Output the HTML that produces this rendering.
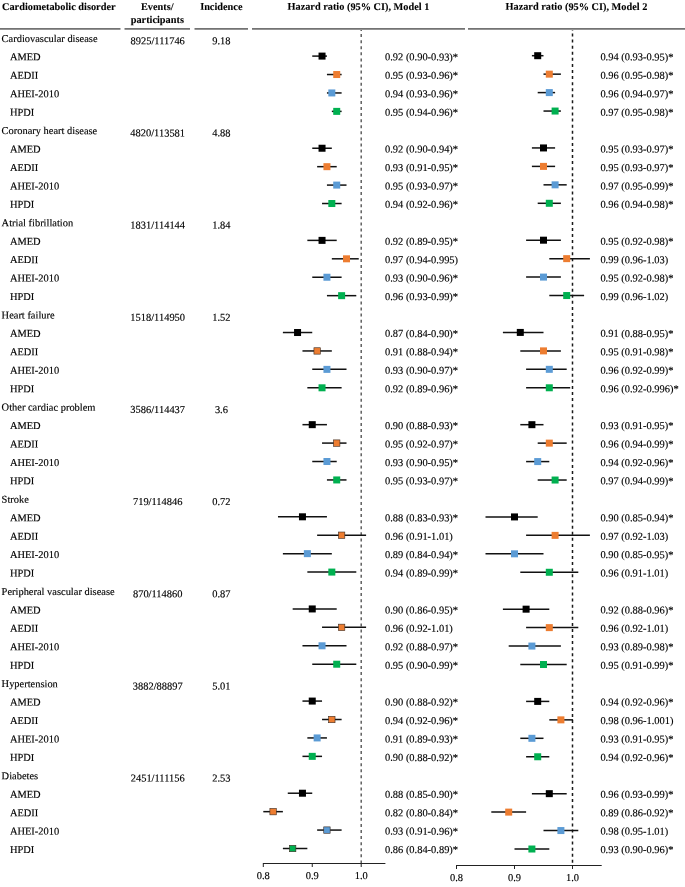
<!DOCTYPE html><html><head><meta charset="utf-8"><style>html,body{margin:0;padding:0;background:#fff;width:685px;height:887px;overflow:hidden}svg{display:block;will-change:transform}text{font-family:"Liberation Serif",serif;fill:#000;stroke:#000;stroke-width:0.15px}.h{font-weight:bold;font-size:10.3px;stroke-width:0.1px}.b{font-size:10.45px}</style></head><body>
<svg width="685" height="887" viewBox="0 0 685 887">
<text class="h" x="2" y="9.9" transform="rotate(0.05 2 9.9)">Cardiometabolic disorder</text>
<text class="h" x="157.3" y="9.9" text-anchor="middle" transform="rotate(0.05 157.3 9.9)">Events/</text>
<text class="h" x="157.3" y="23.0" text-anchor="middle" transform="rotate(0.05 157.3 23.0)">participants</text>
<text class="h" x="221.3" y="9.9" text-anchor="middle" transform="rotate(0.05 221.3 9.9)">Incidence</text>
<text class="h" x="358.4" y="9.9" text-anchor="middle" transform="rotate(0.05 358.4 9.9)">Hazard ratio (95% CI), Model 1</text>
<text class="h" x="576.4" y="9.9" text-anchor="middle" transform="rotate(0.05 576.4 9.9)">Hazard ratio (95% CI), Model 2</text>
<rect x="0" y="28" width="120.5" height="1" fill="rgb(115,115,115)"/>
<rect x="0" y="29" width="120.5" height="1" fill="rgb(148,148,148)"/>
<rect x="124.5" y="28" width="65.5" height="1" fill="rgb(115,115,115)"/>
<rect x="124.5" y="29" width="65.5" height="1" fill="rgb(148,148,148)"/>
<rect x="194.5" y="28" width="53.5" height="1" fill="rgb(115,115,115)"/>
<rect x="194.5" y="29" width="53.5" height="1" fill="rgb(148,148,148)"/>
<rect x="252" y="28" width="213" height="1" fill="rgb(115,115,115)"/>
<rect x="252" y="29" width="213" height="1" fill="rgb(148,148,148)"/>
<rect x="468" y="28" width="217" height="1" fill="rgb(115,115,115)"/>
<rect x="468" y="29" width="217" height="1" fill="rgb(148,148,148)"/>
<line x1="361.2" y1="30" x2="361.2" y2="866.5" stroke="#555" stroke-width="1.4" stroke-dasharray="3 3.0758" stroke-dashoffset="1.98"/>
<line x1="572.5" y1="30" x2="572.5" y2="864" stroke="#1a1a1a" stroke-width="1.5" stroke-dasharray="3 3.0758" stroke-dashoffset="2.55"/>
<rect x="263" y="863" width="122.4" height="1" fill="#222"/>
<rect x="262.80" y="863" width="1" height="4" fill="#222"/>
<text class="b" x="263.30" y="878.9" text-anchor="middle" transform="rotate(0.05 263.30 878.9)">0.8</text>
<rect x="311.75" y="863" width="1" height="4" fill="#222"/>
<text class="b" x="312.25" y="878.9" text-anchor="middle" transform="rotate(0.05 312.25 878.9)">0.9</text>
<rect x="360.70" y="863" width="1" height="4" fill="#222"/>
<text class="b" x="361.20" y="878.9" text-anchor="middle" transform="rotate(0.05 361.20 878.9)">1.0</text>
<rect x="456" y="865" width="145.7" height="1" fill="#222"/>
<rect x="456.00" y="865" width="1" height="4" fill="#222"/>
<text class="b" x="456.50" y="880.9" text-anchor="middle" transform="rotate(0.05 456.50 880.9)">0.8</text>
<rect x="514.00" y="865" width="1" height="4" fill="#222"/>
<text class="b" x="514.50" y="880.9" text-anchor="middle" transform="rotate(0.05 514.50 880.9)">0.9</text>
<rect x="572.00" y="865" width="1" height="4" fill="#222"/>
<text class="b" x="572.50" y="880.9" text-anchor="middle" transform="rotate(0.05 572.50 880.9)">1.0</text>
<text class="b" x="1.6" y="41.90" transform="rotate(0.05 1.6 41.90)">Cardiovascular disease</text>
<text class="b" x="157.7" y="44.20" text-anchor="middle" transform="rotate(0.05 157.7 44.20)">8925/111746</text>
<text class="b" x="221.4" y="44.20" text-anchor="middle" transform="rotate(0.05 221.4 44.20)">9.18</text>
<text class="b" x="9.9" y="60.33" transform="rotate(0.05 9.9 60.33)">AMED</text>
<text class="b" x="385" y="60.33" transform="rotate(0.05 385 60.33)">0.92 (0.90-0.93)*</text>
<text class="b" x="600.4" y="60.33" transform="rotate(0.05 600.4 60.33)">0.94 (0.93-0.95)*</text>
<line x1="312.25" y1="56.10" x2="326.94" y2="56.10" stroke="#111" stroke-width="1.5"/>
<rect x="318.54" y="52.60" width="7.0" height="7.0" fill="#000000"/>
<line x1="531.90" y1="55.70" x2="543.50" y2="55.70" stroke="#111" stroke-width="1.5"/>
<rect x="534.20" y="52.20" width="7.0" height="7.0" fill="#000000"/>
<text class="b" x="9.9" y="78.77" transform="rotate(0.05 9.9 78.77)">AEDII</text>
<text class="b" x="385" y="78.77" transform="rotate(0.05 385 78.77)">0.95 (0.93-0.96)*</text>
<text class="b" x="600.4" y="78.77" transform="rotate(0.05 600.4 78.77)">0.96 (0.95-0.98)*</text>
<line x1="326.94" y1="74.53" x2="341.62" y2="74.53" stroke="#111" stroke-width="1.5"/>
<rect x="333.22" y="71.03" width="7.0" height="7.0" fill="#ED7D31"/>
<line x1="543.50" y1="74.15" x2="560.90" y2="74.15" stroke="#111" stroke-width="1.5"/>
<rect x="545.80" y="70.65" width="7.0" height="7.0" fill="#ED7D31"/>
<text class="b" x="9.9" y="97.20" transform="rotate(0.05 9.9 97.20)">AHEI-2010</text>
<text class="b" x="385" y="97.20" transform="rotate(0.05 385 97.20)">0.94 (0.93-0.96)*</text>
<text class="b" x="600.4" y="97.20" transform="rotate(0.05 600.4 97.20)">0.96 (0.94-0.97)*</text>
<line x1="326.94" y1="92.95" x2="341.62" y2="92.95" stroke="#111" stroke-width="1.5"/>
<rect x="328.33" y="89.45" width="7.0" height="7.0" fill="#5B9BD5"/>
<line x1="537.70" y1="92.60" x2="555.10" y2="92.60" stroke="#111" stroke-width="1.5"/>
<rect x="545.80" y="89.10" width="7.0" height="7.0" fill="#5B9BD5"/>
<text class="b" x="9.9" y="115.64" transform="rotate(0.05 9.9 115.64)">HPDI</text>
<text class="b" x="385" y="115.64" transform="rotate(0.05 385 115.64)">0.95 (0.94-0.96)*</text>
<text class="b" x="600.4" y="115.64" transform="rotate(0.05 600.4 115.64)">0.97 (0.95-0.98)*</text>
<line x1="331.83" y1="111.38" x2="341.62" y2="111.38" stroke="#111" stroke-width="1.5"/>
<rect x="333.22" y="107.88" width="7.0" height="7.0" fill="#00B050"/>
<line x1="543.50" y1="111.05" x2="560.90" y2="111.05" stroke="#111" stroke-width="1.5"/>
<rect x="551.60" y="107.55" width="7.0" height="7.0" fill="#00B050"/>
<text class="b" x="1.6" y="134.07" transform="rotate(0.05 1.6 134.07)">Coronary heart disease</text>
<text class="b" x="157.7" y="136.38" text-anchor="middle" transform="rotate(0.05 157.7 136.38)">4820/113581</text>
<text class="b" x="221.4" y="136.38" text-anchor="middle" transform="rotate(0.05 221.4 136.38)">4.88</text>
<text class="b" x="9.9" y="152.51" transform="rotate(0.05 9.9 152.51)">AMED</text>
<text class="b" x="385" y="152.51" transform="rotate(0.05 385 152.51)">0.92 (0.90-0.94)*</text>
<text class="b" x="600.4" y="152.51" transform="rotate(0.05 600.4 152.51)">0.95 (0.93-0.97)*</text>
<line x1="312.25" y1="148.24" x2="331.83" y2="148.24" stroke="#111" stroke-width="1.5"/>
<rect x="318.54" y="144.74" width="7.0" height="7.0" fill="#000000"/>
<line x1="531.90" y1="147.94" x2="555.10" y2="147.94" stroke="#111" stroke-width="1.5"/>
<rect x="540.00" y="144.44" width="7.0" height="7.0" fill="#000000"/>
<text class="b" x="9.9" y="170.94" transform="rotate(0.05 9.9 170.94)">AEDII</text>
<text class="b" x="385" y="170.94" transform="rotate(0.05 385 170.94)">0.93 (0.91-0.95)*</text>
<text class="b" x="600.4" y="170.94" transform="rotate(0.05 600.4 170.94)">0.95 (0.93-0.97)*</text>
<line x1="317.14" y1="166.67" x2="336.72" y2="166.67" stroke="#111" stroke-width="1.5"/>
<rect x="323.44" y="163.17" width="7.0" height="7.0" fill="#ED7D31"/>
<line x1="531.90" y1="166.39" x2="555.10" y2="166.39" stroke="#111" stroke-width="1.5"/>
<rect x="540.00" y="162.89" width="7.0" height="7.0" fill="#ED7D31"/>
<text class="b" x="9.9" y="189.38" transform="rotate(0.05 9.9 189.38)">AHEI-2010</text>
<text class="b" x="385" y="189.38" transform="rotate(0.05 385 189.38)">0.95 (0.93-0.97)*</text>
<text class="b" x="600.4" y="189.38" transform="rotate(0.05 600.4 189.38)">0.97 (0.95-0.99)*</text>
<line x1="326.94" y1="185.09" x2="346.51" y2="185.09" stroke="#111" stroke-width="1.5"/>
<rect x="333.22" y="181.59" width="7.0" height="7.0" fill="#5B9BD5"/>
<line x1="543.50" y1="184.84" x2="566.70" y2="184.84" stroke="#111" stroke-width="1.5"/>
<rect x="551.60" y="181.34" width="7.0" height="7.0" fill="#5B9BD5"/>
<text class="b" x="9.9" y="207.81" transform="rotate(0.05 9.9 207.81)">HPDI</text>
<text class="b" x="385" y="207.81" transform="rotate(0.05 385 207.81)">0.94 (0.92-0.96)*</text>
<text class="b" x="600.4" y="207.81" transform="rotate(0.05 600.4 207.81)">0.96 (0.94-0.98)*</text>
<line x1="322.04" y1="203.52" x2="341.62" y2="203.52" stroke="#111" stroke-width="1.5"/>
<rect x="328.33" y="200.02" width="7.0" height="7.0" fill="#00B050"/>
<line x1="537.70" y1="203.29" x2="560.90" y2="203.29" stroke="#111" stroke-width="1.5"/>
<rect x="545.80" y="199.79" width="7.0" height="7.0" fill="#00B050"/>
<text class="b" x="1.6" y="226.25" transform="rotate(0.05 1.6 226.25)">Atrial fibrillation</text>
<text class="b" x="157.7" y="228.55" text-anchor="middle" transform="rotate(0.05 157.7 228.55)">1831/114144</text>
<text class="b" x="221.4" y="228.55" text-anchor="middle" transform="rotate(0.05 221.4 228.55)">1.84</text>
<text class="b" x="9.9" y="244.69" transform="rotate(0.05 9.9 244.69)">AMED</text>
<text class="b" x="385" y="244.69" transform="rotate(0.05 385 244.69)">0.92 (0.89-0.95)*</text>
<text class="b" x="600.4" y="244.69" transform="rotate(0.05 600.4 244.69)">0.95 (0.92-0.98)*</text>
<line x1="307.35" y1="240.38" x2="336.72" y2="240.38" stroke="#111" stroke-width="1.5"/>
<rect x="318.54" y="236.88" width="7.0" height="7.0" fill="#000000"/>
<line x1="526.10" y1="240.19" x2="560.90" y2="240.19" stroke="#111" stroke-width="1.5"/>
<rect x="540.00" y="236.69" width="7.0" height="7.0" fill="#000000"/>
<text class="b" x="9.9" y="263.12" transform="rotate(0.05 9.9 263.12)">AEDII</text>
<text class="b" x="385" y="263.12" transform="rotate(0.05 385 263.12)">0.97 (0.94-0.995)</text>
<text class="b" x="600.4" y="263.12" transform="rotate(0.05 600.4 263.12)">0.99 (0.96-1.03)</text>
<line x1="331.83" y1="258.81" x2="358.75" y2="258.81" stroke="#111" stroke-width="1.5"/>
<rect x="343.01" y="255.31" width="7.0" height="7.0" fill="#ED7D31"/>
<line x1="549.30" y1="258.64" x2="589.90" y2="258.64" stroke="#111" stroke-width="1.5"/>
<rect x="563.20" y="255.14" width="7.0" height="7.0" fill="#ED7D31"/>
<text class="b" x="9.9" y="281.55" transform="rotate(0.05 9.9 281.55)">AHEI-2010</text>
<text class="b" x="385" y="281.55" transform="rotate(0.05 385 281.55)">0.93 (0.90-0.96)*</text>
<text class="b" x="600.4" y="281.55" transform="rotate(0.05 600.4 281.55)">0.95 (0.92-0.98)*</text>
<line x1="312.25" y1="277.23" x2="341.62" y2="277.23" stroke="#111" stroke-width="1.5"/>
<rect x="323.44" y="273.73" width="7.0" height="7.0" fill="#5B9BD5"/>
<line x1="526.10" y1="277.09" x2="560.90" y2="277.09" stroke="#111" stroke-width="1.5"/>
<rect x="540.00" y="273.59" width="7.0" height="7.0" fill="#5B9BD5"/>
<text class="b" x="9.9" y="299.99" transform="rotate(0.05 9.9 299.99)">HPDI</text>
<text class="b" x="385" y="299.99" transform="rotate(0.05 385 299.99)">0.96 (0.93-0.99)*</text>
<text class="b" x="600.4" y="299.99" transform="rotate(0.05 600.4 299.99)">0.99 (0.96-1.02)</text>
<line x1="326.94" y1="295.66" x2="356.30" y2="295.66" stroke="#111" stroke-width="1.5"/>
<rect x="338.12" y="292.16" width="7.0" height="7.0" fill="#00B050"/>
<line x1="549.30" y1="295.54" x2="584.10" y2="295.54" stroke="#111" stroke-width="1.5"/>
<rect x="563.20" y="292.04" width="7.0" height="7.0" fill="#00B050"/>
<text class="b" x="1.6" y="318.42" transform="rotate(0.05 1.6 318.42)">Heart failure</text>
<text class="b" x="157.7" y="320.72" text-anchor="middle" transform="rotate(0.05 157.7 320.72)">1518/114950</text>
<text class="b" x="221.4" y="320.72" text-anchor="middle" transform="rotate(0.05 221.4 320.72)">1.52</text>
<text class="b" x="9.9" y="336.86" transform="rotate(0.05 9.9 336.86)">AMED</text>
<text class="b" x="385" y="336.86" transform="rotate(0.05 385 336.86)">0.87 (0.84-0.90)*</text>
<text class="b" x="600.4" y="336.86" transform="rotate(0.05 600.4 336.86)">0.91 (0.88-0.95)*</text>
<line x1="282.88" y1="332.52" x2="312.25" y2="332.52" stroke="#111" stroke-width="1.5"/>
<rect x="294.06" y="329.02" width="7.0" height="7.0" fill="#000000"/>
<line x1="502.90" y1="332.43" x2="543.50" y2="332.43" stroke="#111" stroke-width="1.5"/>
<rect x="516.80" y="328.93" width="7.0" height="7.0" fill="#000000"/>
<text class="b" x="9.9" y="355.29" transform="rotate(0.05 9.9 355.29)">AEDII</text>
<text class="b" x="385" y="355.29" transform="rotate(0.05 385 355.29)">0.91 (0.88-0.94)*</text>
<text class="b" x="600.4" y="355.29" transform="rotate(0.05 600.4 355.29)">0.95 (0.91-0.98)*</text>
<line x1="302.46" y1="350.95" x2="331.83" y2="350.95" stroke="#111" stroke-width="1.5"/>
<rect x="313.94" y="347.75" width="6.4" height="6.4" fill="#ED7D31" stroke="#3a2a20" stroke-width="0.6"/>
<line x1="520.30" y1="350.88" x2="560.90" y2="350.88" stroke="#111" stroke-width="1.5"/>
<rect x="540.00" y="347.38" width="7.0" height="7.0" fill="#ED7D31"/>
<text class="b" x="9.9" y="373.73" transform="rotate(0.05 9.9 373.73)">AHEI-2010</text>
<text class="b" x="385" y="373.73" transform="rotate(0.05 385 373.73)">0.93 (0.90-0.97)*</text>
<text class="b" x="600.4" y="373.73" transform="rotate(0.05 600.4 373.73)">0.96 (0.92-0.99)*</text>
<line x1="312.25" y1="369.37" x2="346.51" y2="369.37" stroke="#111" stroke-width="1.5"/>
<rect x="323.44" y="365.87" width="7.0" height="7.0" fill="#5B9BD5"/>
<line x1="526.10" y1="369.33" x2="566.70" y2="369.33" stroke="#111" stroke-width="1.5"/>
<rect x="545.80" y="365.83" width="7.0" height="7.0" fill="#5B9BD5"/>
<text class="b" x="9.9" y="392.16" transform="rotate(0.05 9.9 392.16)">HPDI</text>
<text class="b" x="385" y="392.16" transform="rotate(0.05 385 392.16)">0.92 (0.89-0.96)*</text>
<text class="b" x="600.4" y="392.16" transform="rotate(0.05 600.4 392.16)">0.96 (0.92-0.996)*</text>
<line x1="307.35" y1="387.80" x2="341.62" y2="387.80" stroke="#111" stroke-width="1.5"/>
<rect x="318.54" y="384.30" width="7.0" height="7.0" fill="#00B050"/>
<line x1="526.10" y1="387.78" x2="570.18" y2="387.78" stroke="#111" stroke-width="1.5"/>
<rect x="545.80" y="384.28" width="7.0" height="7.0" fill="#00B050"/>
<text class="b" x="1.6" y="410.60" transform="rotate(0.05 1.6 410.60)">Other cardiac problem</text>
<text class="b" x="157.7" y="412.90" text-anchor="middle" transform="rotate(0.05 157.7 412.90)">3586/114437</text>
<text class="b" x="221.4" y="412.90" text-anchor="middle" transform="rotate(0.05 221.4 412.90)">3.6</text>
<text class="b" x="9.9" y="429.03" transform="rotate(0.05 9.9 429.03)">AMED</text>
<text class="b" x="385" y="429.03" transform="rotate(0.05 385 429.03)">0.90 (0.88-0.93)*</text>
<text class="b" x="600.4" y="429.03" transform="rotate(0.05 600.4 429.03)">0.93 (0.91-0.95)*</text>
<line x1="302.46" y1="424.66" x2="326.94" y2="424.66" stroke="#111" stroke-width="1.5"/>
<rect x="308.75" y="421.16" width="7.0" height="7.0" fill="#000000"/>
<line x1="520.30" y1="424.68" x2="543.50" y2="424.68" stroke="#111" stroke-width="1.5"/>
<rect x="528.40" y="421.18" width="7.0" height="7.0" fill="#000000"/>
<text class="b" x="9.9" y="447.47" transform="rotate(0.05 9.9 447.47)">AEDII</text>
<text class="b" x="385" y="447.47" transform="rotate(0.05 385 447.47)">0.95 (0.92-0.97)*</text>
<text class="b" x="600.4" y="447.47" transform="rotate(0.05 600.4 447.47)">0.96 (0.94-0.99)*</text>
<line x1="322.04" y1="443.09" x2="346.51" y2="443.09" stroke="#111" stroke-width="1.5"/>
<rect x="333.52" y="439.89" width="6.4" height="6.4" fill="#ED7D31" stroke="#3a2a20" stroke-width="0.6"/>
<line x1="537.70" y1="443.13" x2="566.70" y2="443.13" stroke="#111" stroke-width="1.5"/>
<rect x="545.80" y="439.63" width="7.0" height="7.0" fill="#ED7D31"/>
<text class="b" x="9.9" y="465.90" transform="rotate(0.05 9.9 465.90)">AHEI-2010</text>
<text class="b" x="385" y="465.90" transform="rotate(0.05 385 465.90)">0.93 (0.90-0.95)*</text>
<text class="b" x="600.4" y="465.90" transform="rotate(0.05 600.4 465.90)">0.94 (0.92-0.96)*</text>
<line x1="312.25" y1="461.51" x2="336.72" y2="461.51" stroke="#111" stroke-width="1.5"/>
<rect x="323.44" y="458.01" width="7.0" height="7.0" fill="#5B9BD5"/>
<line x1="526.10" y1="461.58" x2="549.30" y2="461.58" stroke="#111" stroke-width="1.5"/>
<rect x="534.20" y="458.08" width="7.0" height="7.0" fill="#5B9BD5"/>
<text class="b" x="9.9" y="484.34" transform="rotate(0.05 9.9 484.34)">HPDI</text>
<text class="b" x="385" y="484.34" transform="rotate(0.05 385 484.34)">0.95 (0.93-0.97)*</text>
<text class="b" x="600.4" y="484.34" transform="rotate(0.05 600.4 484.34)">0.97 (0.94-0.99)*</text>
<line x1="326.94" y1="479.94" x2="346.51" y2="479.94" stroke="#111" stroke-width="1.5"/>
<rect x="333.22" y="476.44" width="7.0" height="7.0" fill="#00B050"/>
<line x1="537.70" y1="480.03" x2="566.70" y2="480.03" stroke="#111" stroke-width="1.5"/>
<rect x="551.60" y="476.53" width="7.0" height="7.0" fill="#00B050"/>
<text class="b" x="1.6" y="502.77" transform="rotate(0.05 1.6 502.77)">Stroke</text>
<text class="b" x="157.7" y="505.07" text-anchor="middle" transform="rotate(0.05 157.7 505.07)">719/114846</text>
<text class="b" x="221.4" y="505.07" text-anchor="middle" transform="rotate(0.05 221.4 505.07)">0.72</text>
<text class="b" x="9.9" y="521.21" transform="rotate(0.05 9.9 521.21)">AMED</text>
<text class="b" x="385" y="521.21" transform="rotate(0.05 385 521.21)">0.88 (0.83-0.93)*</text>
<text class="b" x="600.4" y="521.21" transform="rotate(0.05 600.4 521.21)">0.90 (0.85-0.94)*</text>
<line x1="277.98" y1="516.80" x2="326.94" y2="516.80" stroke="#111" stroke-width="1.5"/>
<rect x="298.96" y="513.30" width="7.0" height="7.0" fill="#000000"/>
<line x1="485.50" y1="516.92" x2="537.70" y2="516.92" stroke="#111" stroke-width="1.5"/>
<rect x="511.00" y="513.42" width="7.0" height="7.0" fill="#000000"/>
<text class="b" x="9.9" y="539.64" transform="rotate(0.05 9.9 539.64)">AEDII</text>
<text class="b" x="385" y="539.64" transform="rotate(0.05 385 539.64)">0.96 (0.91-1.01)</text>
<text class="b" x="600.4" y="539.64" transform="rotate(0.05 600.4 539.64)">0.97 (0.92-1.03)</text>
<line x1="317.14" y1="535.23" x2="366.09" y2="535.23" stroke="#111" stroke-width="1.5"/>
<rect x="338.42" y="532.03" width="6.4" height="6.4" fill="#ED7D31" stroke="#3a2a20" stroke-width="0.6"/>
<line x1="526.10" y1="535.37" x2="589.90" y2="535.37" stroke="#111" stroke-width="1.5"/>
<rect x="551.60" y="531.87" width="7.0" height="7.0" fill="#ED7D31"/>
<text class="b" x="9.9" y="558.08" transform="rotate(0.05 9.9 558.08)">AHEI-2010</text>
<text class="b" x="385" y="558.08" transform="rotate(0.05 385 558.08)">0.89 (0.84-0.94)*</text>
<text class="b" x="600.4" y="558.08" transform="rotate(0.05 600.4 558.08)">0.90 (0.85-0.95)*</text>
<line x1="282.88" y1="553.65" x2="331.83" y2="553.65" stroke="#111" stroke-width="1.5"/>
<rect x="303.85" y="550.15" width="7.0" height="7.0" fill="#5B9BD5"/>
<line x1="485.50" y1="553.82" x2="543.50" y2="553.82" stroke="#111" stroke-width="1.5"/>
<rect x="511.00" y="550.32" width="7.0" height="7.0" fill="#5B9BD5"/>
<text class="b" x="9.9" y="576.51" transform="rotate(0.05 9.9 576.51)">HPDI</text>
<text class="b" x="385" y="576.51" transform="rotate(0.05 385 576.51)">0.94 (0.89-0.99)*</text>
<text class="b" x="600.4" y="576.51" transform="rotate(0.05 600.4 576.51)">0.96 (0.91-1.01)</text>
<line x1="307.35" y1="572.08" x2="356.30" y2="572.08" stroke="#111" stroke-width="1.5"/>
<rect x="328.33" y="568.58" width="7.0" height="7.0" fill="#00B050"/>
<line x1="520.30" y1="572.27" x2="578.30" y2="572.27" stroke="#111" stroke-width="1.5"/>
<rect x="545.80" y="568.77" width="7.0" height="7.0" fill="#00B050"/>
<text class="b" x="1.6" y="594.95" transform="rotate(0.05 1.6 594.95)">Peripheral vascular disease</text>
<text class="b" x="157.7" y="597.25" text-anchor="middle" transform="rotate(0.05 157.7 597.25)">870/114860</text>
<text class="b" x="221.4" y="597.25" text-anchor="middle" transform="rotate(0.05 221.4 597.25)">0.87</text>
<text class="b" x="9.9" y="613.38" transform="rotate(0.05 9.9 613.38)">AMED</text>
<text class="b" x="385" y="613.38" transform="rotate(0.05 385 613.38)">0.90 (0.86-0.95)*</text>
<text class="b" x="600.4" y="613.38" transform="rotate(0.05 600.4 613.38)">0.92 (0.88-0.96)*</text>
<line x1="292.67" y1="608.94" x2="336.72" y2="608.94" stroke="#111" stroke-width="1.5"/>
<rect x="308.75" y="605.44" width="7.0" height="7.0" fill="#000000"/>
<line x1="502.90" y1="609.17" x2="549.30" y2="609.17" stroke="#111" stroke-width="1.5"/>
<rect x="522.60" y="605.67" width="7.0" height="7.0" fill="#000000"/>
<text class="b" x="9.9" y="631.82" transform="rotate(0.05 9.9 631.82)">AEDII</text>
<text class="b" x="385" y="631.82" transform="rotate(0.05 385 631.82)">0.96 (0.92-1.01)</text>
<text class="b" x="600.4" y="631.82" transform="rotate(0.05 600.4 631.82)">0.96 (0.92-1.01)</text>
<line x1="322.04" y1="627.37" x2="366.09" y2="627.37" stroke="#111" stroke-width="1.5"/>
<rect x="338.42" y="624.17" width="6.4" height="6.4" fill="#ED7D31" stroke="#3a2a20" stroke-width="0.6"/>
<line x1="526.10" y1="627.62" x2="578.30" y2="627.62" stroke="#111" stroke-width="1.5"/>
<rect x="545.80" y="624.12" width="7.0" height="7.0" fill="#ED7D31"/>
<text class="b" x="9.9" y="650.25" transform="rotate(0.05 9.9 650.25)">AHEI-2010</text>
<text class="b" x="385" y="650.25" transform="rotate(0.05 385 650.25)">0.92 (0.88-0.97)*</text>
<text class="b" x="600.4" y="650.25" transform="rotate(0.05 600.4 650.25)">0.93 (0.89-0.98)*</text>
<line x1="302.46" y1="645.79" x2="346.51" y2="645.79" stroke="#111" stroke-width="1.5"/>
<rect x="318.54" y="642.29" width="7.0" height="7.0" fill="#5B9BD5"/>
<line x1="508.70" y1="646.07" x2="560.90" y2="646.07" stroke="#111" stroke-width="1.5"/>
<rect x="528.40" y="642.57" width="7.0" height="7.0" fill="#5B9BD5"/>
<text class="b" x="9.9" y="668.69" transform="rotate(0.05 9.9 668.69)">HPDI</text>
<text class="b" x="385" y="668.69" transform="rotate(0.05 385 668.69)">0.95 (0.90-0.99)*</text>
<text class="b" x="600.4" y="668.69" transform="rotate(0.05 600.4 668.69)">0.95 (0.91-0.99)*</text>
<line x1="312.25" y1="664.22" x2="356.30" y2="664.22" stroke="#111" stroke-width="1.5"/>
<rect x="333.22" y="660.72" width="7.0" height="7.0" fill="#00B050"/>
<line x1="520.30" y1="664.52" x2="566.70" y2="664.52" stroke="#111" stroke-width="1.5"/>
<rect x="540.00" y="661.02" width="7.0" height="7.0" fill="#00B050"/>
<text class="b" x="1.6" y="687.12" transform="rotate(0.05 1.6 687.12)">Hypertension</text>
<text class="b" x="157.7" y="689.42" text-anchor="middle" transform="rotate(0.05 157.7 689.42)">3882/88897</text>
<text class="b" x="221.4" y="689.42" text-anchor="middle" transform="rotate(0.05 221.4 689.42)">5.01</text>
<text class="b" x="9.9" y="705.56" transform="rotate(0.05 9.9 705.56)">AMED</text>
<text class="b" x="385" y="705.56" transform="rotate(0.05 385 705.56)">0.90 (0.88-0.92)*</text>
<text class="b" x="600.4" y="705.56" transform="rotate(0.05 600.4 705.56)">0.94 (0.92-0.96)*</text>
<line x1="302.46" y1="701.08" x2="322.04" y2="701.08" stroke="#111" stroke-width="1.5"/>
<rect x="308.75" y="697.58" width="7.0" height="7.0" fill="#000000"/>
<line x1="526.10" y1="701.41" x2="549.30" y2="701.41" stroke="#111" stroke-width="1.5"/>
<rect x="534.20" y="697.91" width="7.0" height="7.0" fill="#000000"/>
<text class="b" x="9.9" y="723.99" transform="rotate(0.05 9.9 723.99)">AEDII</text>
<text class="b" x="385" y="723.99" transform="rotate(0.05 385 723.99)">0.94 (0.92-0.96)*</text>
<text class="b" x="600.4" y="723.99" transform="rotate(0.05 600.4 723.99)">0.98 (0.96-1.001)</text>
<line x1="322.04" y1="719.51" x2="341.62" y2="719.51" stroke="#111" stroke-width="1.5"/>
<rect x="328.63" y="716.31" width="6.4" height="6.4" fill="#ED7D31" stroke="#3a2a20" stroke-width="0.6"/>
<line x1="549.30" y1="719.86" x2="573.08" y2="719.86" stroke="#111" stroke-width="1.5"/>
<rect x="557.40" y="716.36" width="7.0" height="7.0" fill="#ED7D31"/>
<text class="b" x="9.9" y="742.43" transform="rotate(0.05 9.9 742.43)">AHEI-2010</text>
<text class="b" x="385" y="742.43" transform="rotate(0.05 385 742.43)">0.91 (0.89-0.93)*</text>
<text class="b" x="600.4" y="742.43" transform="rotate(0.05 600.4 742.43)">0.93 (0.91-0.95)*</text>
<line x1="307.35" y1="737.93" x2="326.94" y2="737.93" stroke="#111" stroke-width="1.5"/>
<rect x="313.64" y="734.43" width="7.0" height="7.0" fill="#5B9BD5"/>
<line x1="520.30" y1="738.31" x2="543.50" y2="738.31" stroke="#111" stroke-width="1.5"/>
<rect x="528.40" y="734.81" width="7.0" height="7.0" fill="#5B9BD5"/>
<text class="b" x="9.9" y="760.86" transform="rotate(0.05 9.9 760.86)">HPDI</text>
<text class="b" x="385" y="760.86" transform="rotate(0.05 385 760.86)">0.90 (0.88-0.92)*</text>
<text class="b" x="600.4" y="760.86" transform="rotate(0.05 600.4 760.86)">0.94 (0.92-0.96)*</text>
<line x1="302.46" y1="756.36" x2="322.04" y2="756.36" stroke="#111" stroke-width="1.5"/>
<rect x="308.75" y="752.86" width="7.0" height="7.0" fill="#00B050"/>
<line x1="526.10" y1="756.76" x2="549.30" y2="756.76" stroke="#111" stroke-width="1.5"/>
<rect x="534.20" y="753.26" width="7.0" height="7.0" fill="#00B050"/>
<text class="b" x="1.6" y="779.30" transform="rotate(0.05 1.6 779.30)">Diabetes</text>
<text class="b" x="157.7" y="781.60" text-anchor="middle" transform="rotate(0.05 157.7 781.60)">2451/111156</text>
<text class="b" x="221.4" y="781.60" text-anchor="middle" transform="rotate(0.05 221.4 781.60)">2.53</text>
<text class="b" x="9.9" y="797.73" transform="rotate(0.05 9.9 797.73)">AMED</text>
<text class="b" x="385" y="797.73" transform="rotate(0.05 385 797.73)">0.88 (0.85-0.90)*</text>
<text class="b" x="600.4" y="797.73" transform="rotate(0.05 600.4 797.73)">0.96 (0.93-0.99)*</text>
<line x1="287.77" y1="793.22" x2="312.25" y2="793.22" stroke="#111" stroke-width="1.5"/>
<rect x="298.96" y="789.72" width="7.0" height="7.0" fill="#000000"/>
<line x1="531.90" y1="793.66" x2="566.70" y2="793.66" stroke="#111" stroke-width="1.5"/>
<rect x="545.80" y="790.16" width="7.0" height="7.0" fill="#000000"/>
<text class="b" x="9.9" y="816.17" transform="rotate(0.05 9.9 816.17)">AEDII</text>
<text class="b" x="385" y="816.17" transform="rotate(0.05 385 816.17)">0.82 (0.80-0.84)*</text>
<text class="b" x="600.4" y="816.17" transform="rotate(0.05 600.4 816.17)">0.89 (0.86-0.92)*</text>
<line x1="263.30" y1="811.65" x2="282.88" y2="811.65" stroke="#111" stroke-width="1.5"/>
<rect x="269.89" y="808.45" width="6.4" height="6.4" fill="#ED7D31" stroke="#3a2a20" stroke-width="0.6"/>
<line x1="491.30" y1="812.11" x2="526.10" y2="812.11" stroke="#111" stroke-width="1.5"/>
<rect x="505.20" y="808.61" width="7.0" height="7.0" fill="#ED7D31"/>
<text class="b" x="9.9" y="834.60" transform="rotate(0.05 9.9 834.60)">AHEI-2010</text>
<text class="b" x="385" y="834.60" transform="rotate(0.05 385 834.60)">0.93 (0.91-0.96)*</text>
<text class="b" x="600.4" y="834.60" transform="rotate(0.05 600.4 834.60)">0.98 (0.95-1.01)</text>
<line x1="317.14" y1="830.07" x2="341.62" y2="830.07" stroke="#111" stroke-width="1.5"/>
<rect x="323.74" y="826.87" width="6.4" height="6.4" fill="#5B9BD5" stroke="#3a2a20" stroke-width="0.6"/>
<line x1="543.50" y1="830.56" x2="578.30" y2="830.56" stroke="#111" stroke-width="1.5"/>
<rect x="557.40" y="827.06" width="7.0" height="7.0" fill="#5B9BD5"/>
<text class="b" x="9.9" y="853.04" transform="rotate(0.05 9.9 853.04)">HPDI</text>
<text class="b" x="385" y="853.04" transform="rotate(0.05 385 853.04)">0.86 (0.84-0.89)*</text>
<text class="b" x="600.4" y="853.04" transform="rotate(0.05 600.4 853.04)">0.93 (0.90-0.96)*</text>
<line x1="282.88" y1="848.50" x2="307.35" y2="848.50" stroke="#111" stroke-width="1.5"/>
<rect x="289.47" y="845.30" width="6.4" height="6.4" fill="#00B050" stroke="#3a2a20" stroke-width="0.6"/>
<line x1="514.50" y1="849.01" x2="549.30" y2="849.01" stroke="#111" stroke-width="1.5"/>
<rect x="528.40" y="845.51" width="7.0" height="7.0" fill="#00B050"/>
</svg></body></html>
